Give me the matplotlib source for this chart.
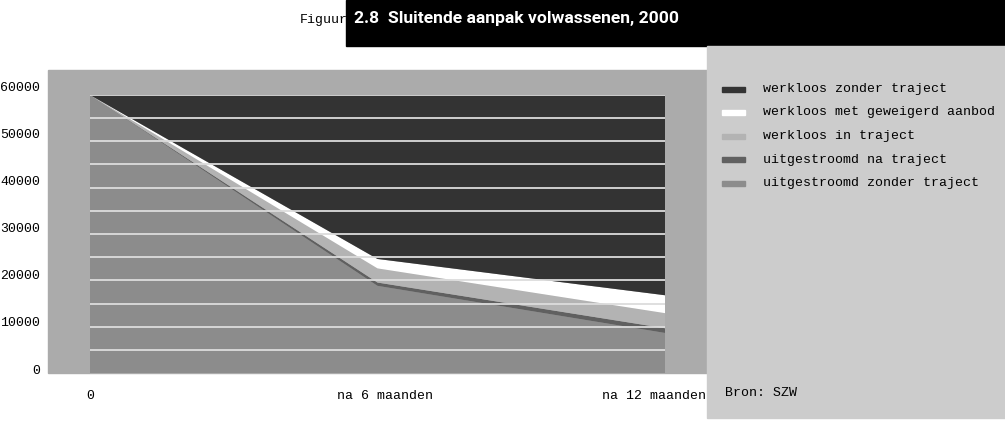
import numpy as np
import matplotlib
matplotlib.use("Agg")
import matplotlib.pyplot as plt
from matplotlib.patches import Rectangle
from matplotlib.transforms import ScaledTranslation

# data (persons)
periods = ["0", "na 6 maanden", "na 12 maanden"]
uit_zonder = [59000, 18500, 8500]     # uitgestroomd zonder traject
uit_na = [0, 700, 1000]               # uitgestroomd na traject
wl_traject = [0, 3000, 3200]          # werkloos in traject
wl_geweigerd = [0, 2000, 3800]        # werkloos met geweigerd aanbod
wl_zonder = [0, 34800, 42500]         # werkloos zonder traject

legend_labels = ["werkloos zonder traject", "werkloos met geweigerd aanbod",
                 "werkloos in traject", "uitgestroomd na traject",
                 "uitgestroomd zonder traject"]
legend_colors = ["#333333", "#ffffff", "#b3b3b3", "#606060", "#8c8c8c"]
y_ticks = [0, 10000, 20000, 30000, 40000, 50000, 60000]

W, H = 1005, 423
mono = "Liberation Mono"
fig = plt.figure(figsize=(W / 100, H / 100), dpi=100)
fig.patch.set_facecolor("white")

# full-figure pixel axes for boxes and loose texts
bg = fig.add_axes([0, 0, 1, 1])
bg.set_xlim(0, W)
bg.set_ylim(H, 0)
bg.axis("off")

bg.add_patch(Rectangle((48, 70), 659, 303, color="#ababab", zorder=0))
bg.text(300, 20, "Figuur", family=mono, fontsize=9.5, va="center", zorder=1)
bg.add_patch(Rectangle((346, 0), W - 346, 46, color="black", zorder=2))
bg.text(354, 19, "2.8  Sluitende aanpak volwassenen, 2000", color="white",
        family="Roboto", weight="bold", fontsize=12.6, va="center", zorder=3)
bg.add_patch(Rectangle((707, 46), W - 707, 372, color="#cccccc", zorder=2))

for i, (lab, col) in enumerate(zip(legend_labels, legend_colors)):
    y = 89 + i * 23.5
    bg.add_patch(Rectangle((722, y - 2), 23, 5, color=col, zorder=3))
    bg.text(763, y, lab, family=mono, fontsize=9.5, va="center", zorder=3)
bg.text(725, 393, "Bron: SZW", family=mono, fontsize=9.5, va="center", zorder=3)

# the chart itself
ax = fig.add_axes([90 / W, (H - 373) / H, 575 / W, 278 / H])
x = np.arange(len(periods))
ax.stackplot(x, uit_zonder, uit_na, wl_traject, wl_geweigerd, wl_zonder,
             colors=legend_colors[::-1], linewidth=0)
total = 59000
ax.set_xlim(0, 2)
ax.set_ylim(0, total)
for g in np.linspace(0, total, 13)[1:]:
    ax.axhline(g, color="#dcdcdc", lw=1.3, zorder=3)
for s in ax.spines.values():
    s.set_visible(False)
ax.patch.set_alpha(0)
ax.yaxis.set_visible(False)

# y labels sit a little above their value, left of the plot frame
ytrans = ax.transData + ScaledTranslation(-0.50, 0.025, fig.dpi_scale_trans)
for v in y_ticks:
    ax.text(0, v, str(v), transform=ytrans, family=mono,
            fontsize=9.5, ha="right", va="center", clip_on=False)

ax.set_xticks(x, periods, family=mono, fontsize=9.5)
ax.tick_params(axis="x", length=0, pad=12)
labs = ax.get_xticklabels()
labs[1].set_transform(labs[1].get_transform() + ScaledTranslation(0.07, 0, fig.dpi_scale_trans))
labs[2].set_transform(labs[2].get_transform() + ScaledTranslation(-0.11, 0, fig.dpi_scale_trans))

fig.savefig("out.png", dpi=100)
